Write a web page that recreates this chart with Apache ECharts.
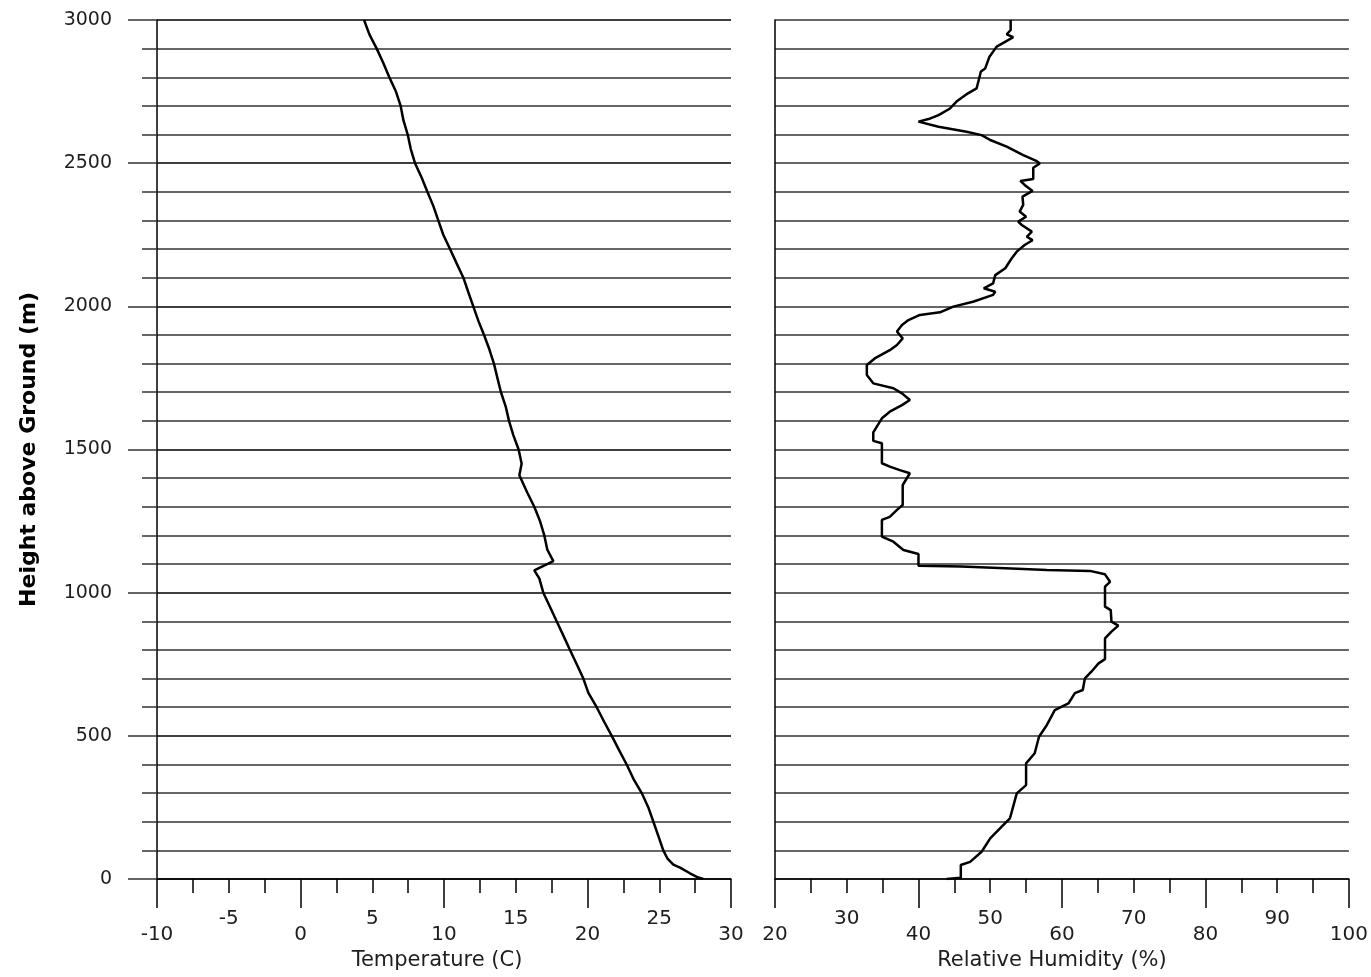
<!DOCTYPE html>
<html>
<head>
<meta charset="utf-8">
<script src="https://cdn.jsdelivr.net/npm/echarts@6/dist/echarts.min.js"></script>
<style>
html,body{margin:0;padding:0;background:#fff;}
#chart{width:1371px;height:977px;}
</style>
</head>
<body>
<div id="chart"></div>
<script>
// ---- Data ----
var tempHeights = [0,5,20,40,50,70,100,150,200,250,300,350,400,450,500,550,600,650,700,750,800,850,900,950,1000,1050,1078,1110,1150,1200,1250,1300,1350,1410,1450,1500,1550,1600,1650,1700,1750,1800,1850,1900,1950,2000,2050,2100,2150,2200,2250,2300,2350,2400,2450,2500,2550,2600,2650,2700,2750,2800,2850,2900,2950,3000];
var tempValues = [28.07,27.72,27.14,26.45,25.98,25.59,25.28,24.94,24.59,24.24,23.78,23.2,22.73,22.2,21.69,21.15,20.64,20.06,19.71,19.25,18.78,18.32,17.85,17.39,16.92,16.64,16.29,17.62,17.2,16.99,16.69,16.29,15.8,15.25,15.41,15.2,14.83,14.53,14.3,13.97,13.72,13.48,13.16,12.79,12.39,12.04,11.69,11.35,10.88,10.42,9.95,9.6,9.26,8.84,8.44,7.98,7.68,7.47,7.17,6.98,6.65,6.19,5.77,5.31,4.8,4.43];

var rhHeights = [0,2,4,49,60,95,142,183,212,299,328,404,439,497,538,590,613,649,660,701,724,753,768,817,840,864,885,899,939,951,1021,1038,1064,1076,1079,1085,1091,1094,1135,1149,1178,1196,1254,1265,1289,1306,1376,1417,1428,1440,1452,1522,1530,1560,1609,1632,1655,1673,1696,1714,1731,1760,1795,1818,1847,1865,1888,1912,1935,1952,1970,1979,1999,2016,2040,2051,2063,2080,2109,2133,2168,2191,2214,2231,2243,2261,2284,2296,2313,2331,2354,2383,2403,2424,2438,2445,2484,2499,2507,2528,2558,2581,2598,2610,2627,2645,2654,2668,2691,2715,2744,2761,2820,2831,2872,2907,2930,2940,2950,2965,3000];
var rhValues = [43.9,43.9,45.9,45.9,47.2,48.8,50.0,51.6,52.75,53.7,55.0,55.0,56.2,56.8,57.9,59.0,60.9,61.8,62.9,63.2,64.1,65.1,66.0,66.0,66.0,66.9,67.85,66.9,66.8,66.0,66.0,66.7,66.0,63.9,57.9,52.1,46.0,40.0,40.0,37.9,36.5,34.9,34.9,36.0,37.0,37.8,37.8,38.8,37.4,36.0,34.9,34.9,33.7,33.7,34.9,36.0,37.7,38.8,37.7,36.5,33.7,32.8,32.8,33.9,36.0,37.0,37.8,37.0,37.7,38.6,40.2,43.0,44.85,47.6,50.4,50.7,49.1,50.4,50.7,52.1,53.0,53.7,54.8,55.9,55.1,55.8,54.4,53.9,55.0,54.1,54.6,54.5,55.9,54.8,54.2,56.0,56.0,56.9,56.5,54.6,52.3,50.0,48.8,46.7,42.8,40.0,41.4,42.8,44.4,45.3,46.9,48.1,48.7,49.3,49.9,50.9,52.5,53.2,52.3,52.85,52.85];

var heightTicks = [0, 500, 1000, 1500, 2000, 2500, 3000];
var tempTicks = [-10, -5, 0, 5, 10, 15, 20, 25, 30];
var rhTicks = [20, 30, 40, 50, 60, 70, 80, 90, 100];

// ---- Build ----
function pairs(xs, ys) { return ys.map(function (y, i) { return [xs[i], y]; }); }
var tempData = pairs(tempValues, tempHeights);
var rhData = pairs(rhValues, rhHeights);

var FONT = 'DejaVu Sans';
var TXT = '#1e1e1e';
var lineC = '#000';
var gridC = '#333';
var TICKFS = 20;
var plain = function (v) { return String(v); };

var chart = echarts.init(document.getElementById('chart'), null, {renderer: 'canvas'});

var xAxes = [
  {gridIndex: 0, type: 'value', min: tempTicks[0], max: tempTicks[tempTicks.length - 1], interval: 2.5, position: 'bottom',
   axisLine: {show: true, onZero: false, lineStyle: {color: lineC, width: 1.5}},
   axisTick: {show: true, length: 14, lineStyle: {color: lineC, width: 1.5}},
   axisLabel: {show: false}, splitLine: {show: false}},
  {gridIndex: 0, type: 'value', min: tempTicks[0], max: tempTicks[tempTicks.length - 1], interval: 10, position: 'bottom',
   axisLine: {show: false, onZero: false},
   axisTick: {show: true, length: 29, lineStyle: {color: lineC, width: 1.5}},
   axisLabel: {show: true, margin: 46, fontFamily: FONT, fontSize: TICKFS, color: TXT, formatter: plain},
   splitLine: {show: false},
   name: 'Temperature (C)', nameLocation: 'middle', nameGap: 70,
   nameTextStyle: {fontFamily: FONT, fontSize: 21, color: TXT, padding: [0, 14, 0, 0]}},
  {gridIndex: 0, type: 'value', min: tempTicks[0], max: tempTicks[tempTicks.length - 1], interval: 5, position: 'bottom',
   axisLine: {show: false, onZero: false}, axisTick: {show: false}, splitLine: {show: false},
   axisLabel: {show: true, margin: 30, fontFamily: FONT, fontSize: TICKFS, color: TXT,
     formatter: function (v) { return (tempTicks.indexOf(v) >= 0 && Math.abs(v % 10) === 5) ? String(v) : ''; }}},
  {gridIndex: 1, type: 'value', min: rhTicks[0], max: rhTicks[rhTicks.length - 1], interval: 5, position: 'bottom',
   axisLine: {show: true, onZero: false, lineStyle: {color: lineC, width: 1.5}},
   axisTick: {show: true, length: 14, lineStyle: {color: lineC, width: 1.5}},
   axisLabel: {show: false}, splitLine: {show: false}},
  {gridIndex: 1, type: 'value', min: rhTicks[0], max: rhTicks[rhTicks.length - 1], interval: 20, position: 'bottom',
   axisLine: {show: false, onZero: false},
   axisTick: {show: true, length: 29, lineStyle: {color: lineC, width: 1.5}},
   axisLabel: {show: true, margin: 46, fontFamily: FONT, fontSize: TICKFS, color: TXT, formatter: plain},
   splitLine: {show: false},
   name: 'Relative Humidity (%)', nameLocation: 'middle', nameGap: 70,
   nameTextStyle: {fontFamily: FONT, fontSize: 21, color: TXT, padding: [0, 20, 0, 0]}},
  {gridIndex: 1, type: 'value', min: rhTicks[0], max: rhTicks[rhTicks.length - 1], interval: 10, position: 'bottom',
   axisLine: {show: false, onZero: false}, axisTick: {show: false}, splitLine: {show: false},
   axisLabel: {show: true, margin: 30, fontFamily: FONT, fontSize: TICKFS, color: TXT,
     formatter: function (v) { return (rhTicks.indexOf(v) >= 0 && v % 20 === 10) ? String(v) : ''; }}}
];

var yAxes = [
  {gridIndex: 0, type: 'value', min: heightTicks[0], max: heightTicks[heightTicks.length - 1], interval: 500, position: 'left',
   axisLine: {show: true, onZero: false, lineStyle: {color: lineC, width: 1.5}},
   axisTick: {show: true, length: 29, lineStyle: {color: gridC, width: 1.5}},
   axisLabel: {show: true, margin: 45, fontFamily: FONT, fontSize: 19, color: TXT, formatter: plain},
   splitLine: {show: true, lineStyle: {color: gridC, width: 1.5}},
   name: 'Height above Ground (m)', nameLocation: 'middle', nameGap: 117, nameRotate: 90,
   nameTextStyle: {fontFamily: FONT, fontSize: 22, fontWeight: 'bold', color: '#000'}},
  {gridIndex: 0, type: 'value', min: heightTicks[0], max: heightTicks[heightTicks.length - 1], interval: 100, position: 'left',
   axisLine: {show: false, onZero: false},
   axisTick: {show: true, length: 15, lineStyle: {color: gridC, width: 1.5}},
   axisLabel: {show: false},
   splitLine: {show: true, lineStyle: {color: gridC, width: 1.5}}},
  {gridIndex: 1, type: 'value', min: heightTicks[0], max: heightTicks[heightTicks.length - 1], interval: 100, position: 'left',
   axisLine: {show: true, onZero: false, lineStyle: {color: lineC, width: 1.5}},
   axisTick: {show: false}, axisLabel: {show: false},
   splitLine: {show: true, lineStyle: {color: gridC, width: 1.5}}}
];

chart.setOption({
  animation: false,
  backgroundColor: '#fff',
  grid: [
    {left: 157, top: 20, width: 574, height: 859, containLabel: false},
    {left: 775, top: 20, width: 574, height: 859, containLabel: false}
  ],
  xAxis: xAxes,
  yAxis: yAxes,
  series: [
    {type: 'line', xAxisIndex: 0, yAxisIndex: 0, data: tempData, showSymbol: false, symbol: 'none',
     lineStyle: {color: '#000', width: 2.5}, z: 5},
    {type: 'line', xAxisIndex: 3, yAxisIndex: 2, data: rhData, showSymbol: false, symbol: 'none',
     lineStyle: {color: '#000', width: 2.5}, z: 5}
  ]
});
</script>
</body>
</html>
